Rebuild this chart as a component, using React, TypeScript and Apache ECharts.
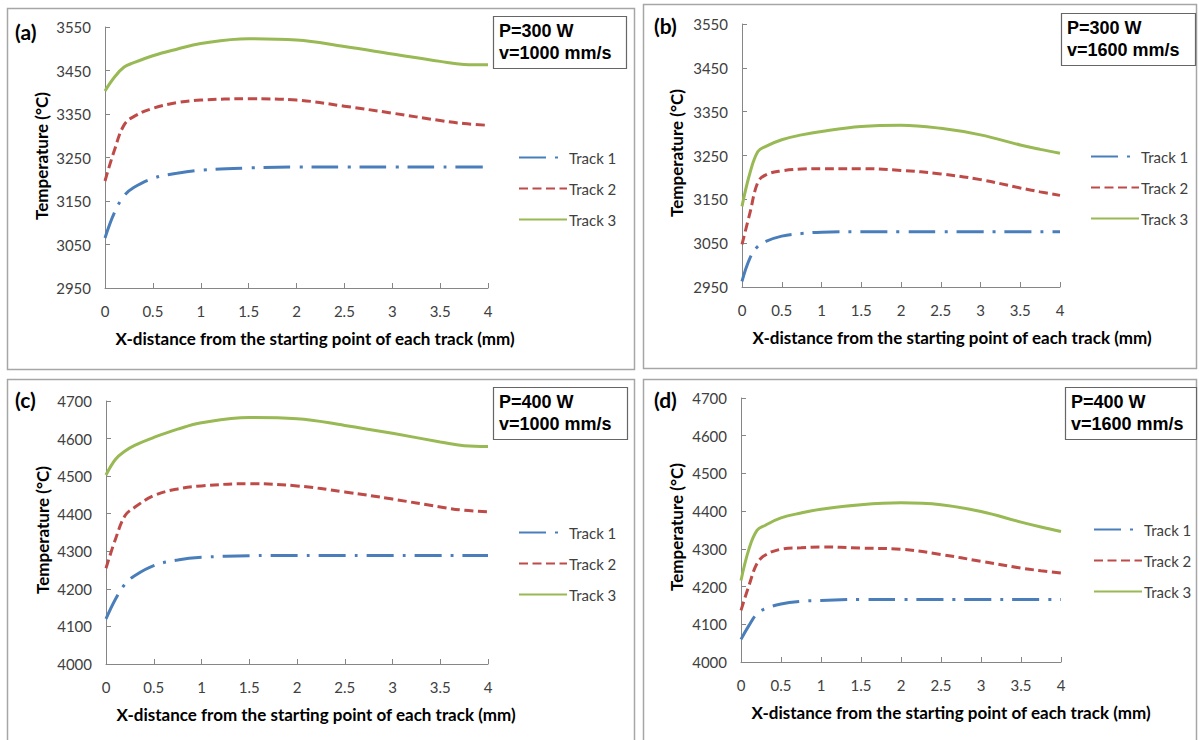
import React, { useEffect, useRef } from "react";
import * as echarts from "echarts";

// Sampling positions along each track (mm)
const xDistance = [0, 0.1, 0.2, 0.3, 0.5, 0.75, 1, 1.5, 2, 2.5, 3, 3.5, 3.75, 4];

// Peak temperature (°C) along each track
const a_track1 = [3065, 3124, 3162, 3181, 3202, 3214, 3221, 3226, 3228, 3228, 3228, 3228, 3228, 3228];
const a_track2 = [3196, 3268, 3325, 3344, 3363, 3376, 3382, 3385, 3382, 3368, 3352, 3335, 3328, 3324];
const a_track3 = [3403, 3435, 3458, 3468, 3484, 3499, 3512, 3523, 3520, 3505, 3488, 3471, 3464, 3463];

const b_track1 = [2963, 3016, 3043, 3054, 3066, 3072, 3075, 3076, 3076, 3076, 3076, 3076, 3076, 3076];
const b_track2 = [3047, 3119, 3189, 3206, 3215, 3219, 3220, 3220, 3216, 3208, 3195, 3176, 3167, 3159];
const b_track3 = [3134, 3210, 3259, 3271, 3286, 3297, 3305, 3316, 3319, 3312, 3297, 3274, 3264, 3255];

const c_track1 = [4120, 4173, 4213, 4235, 4262, 4277, 4284, 4288, 4289, 4289, 4289, 4289, 4289, 4289];
const c_track2 = [4255, 4333, 4395, 4417, 4448, 4466, 4474, 4480, 4474, 4458, 4439, 4418, 4409, 4405];
const c_track3 = [4503, 4545, 4567, 4582, 4603, 4625, 4642, 4656, 4653, 4635, 4614, 4591, 4581, 4579];

const d_track1 = [4060, 4097, 4128, 4141, 4154, 4161, 4163, 4166, 4166, 4166, 4166, 4166, 4166, 4166];
const d_track2 = [4137, 4203, 4261, 4283, 4299, 4303, 4305, 4302, 4299, 4285, 4267, 4249, 4242, 4236];
const d_track3 = [4216, 4300, 4349, 4362, 4382, 4395, 4405, 4417, 4422, 4417, 4399, 4371, 4358, 4346];

// Tick labels
const ticks300W = [2950, 3050, 3150, 3250, 3350, 3450, 3550];
const ticks400W = [4000, 4100, 4200, 4300, 4400, 4500, 4600, 4700];

const trackNames = ["Track 1", "Track 2", "Track 3"];
const panelLetters = ["(a)", "(b)", "(c)", "(d)"];
const powerLabels = ["P=300 W", "P=300 W", "P=400 W", "P=400 W"];
const speedLabels = ["v=1000 mm/s", "v=1600 mm/s", "v=1000 mm/s", "v=1600 mm/s"];
const xTitle = "X-distance from the starting point of each track (mm)";
const yTitle = "Temperature (°C)";

const COLORS = ["#4a7ebb", "#be4b48", "#98b954"];
const DASHES: any[] = [[27, 9, 3, 9], [9, 4.5], "solid"];
const AXIS_GRAY = "#868686";
const TEXT = "#404040";
const FONT = "Lato, 'Open Sans', sans-serif";
const BOX_FONT = "'Liberation Sans', Arial, sans-serif";

// Layout of each panel (pixels)
const panels = [
  { grid: { left: 105, top: 27, width: 383, height: 261 }, frame: [7, 8, 627, 361], ticks: ticks300W, data: [a_track1, a_track2, a_track3], legend: [513, 145], box: [493, 16, 133, 52], letter: [15, 31], yTitleX: 41 },
  { grid: { left: 742, top: 24, width: 318, height: 263 }, frame: [643, 4, 553, 364], ticks: ticks300W, data: [b_track1, b_track2, b_track3], legend: [1085, 144], box: [1061, 13, 134, 52], letter: [654, 25], yTitleX: 676 },
  { grid: { left: 106, top: 401, width: 382, height: 263 }, frame: [7, 379, 627, 366], ticks: ticks400W, data: [c_track1, c_track2, c_track3], legend: [513, 520], box: [493, 387, 134, 52], letter: [15, 399], yTitleX: 42 },
  { grid: { left: 741, top: 398, width: 320, height: 264 }, frame: [643, 379, 553, 366], ticks: ticks400W, data: [d_track1, d_track2, d_track3], legend: [1088, 517], box: [1065, 387, 131, 52], letter: [654, 399], yTitleX: 676 },
];

export default function App() {
  const ref = useRef<HTMLDivElement>(null);

  useEffect(() => {
    if (!ref.current) return;
    const chart = echarts.init(ref.current, null, { renderer: "svg" });

    const grids: any[] = [];
    const xAxes: any[] = [];
    const yAxes: any[] = [];
    const series: any[] = [];
    const legends: any[] = [];
    const graphics: any[] = [];

    panels.forEach((p, i) => {
      grids.push({ ...p.grid, containLabel: false });
      xAxes.push({
        type: "value",
        gridIndex: i,
        min: 0,
        max: 4,
        interval: 0.5,
        axisLine: { show: true, lineStyle: { color: AXIS_GRAY, width: 1 } },
        axisTick: { show: true, inside: true, length: 5, lineStyle: { color: AXIS_GRAY } },
        axisLabel: { color: TEXT, fontFamily: FONT, fontSize: 15, margin: 15 },
        splitLine: { show: false },
      });
      const lo = p.ticks[0];
      const hi = p.ticks[p.ticks.length - 1];
      yAxes.push({
        type: "value",
        gridIndex: i,
        min: lo,
        max: hi,
        axisLine: { show: true, lineStyle: { color: AXIS_GRAY, width: 1 } },
        axisTick: { show: true, inside: true, length: 5, lineStyle: { color: AXIS_GRAY }, customValues: p.ticks },
        axisLabel: {
          color: TEXT,
          fontFamily: FONT,
          fontSize: 15,
          margin: 14,
          customValues: p.ticks,
          formatter: (v: number) => String(v),
        },
        splitLine: { show: false },
      });
      p.data.forEach((vals, k) => {
        series.push({
          type: "line",
          name: trackNames[k],
          xAxisIndex: i,
          yAxisIndex: i,
          data: xDistance.map((x, j) => [x, vals[j]]),
          smooth: 0.4,
          symbol: "none",
          showSymbol: false,
          lineStyle: { color: COLORS[k], width: 3, type: DASHES[k] },
          itemStyle: { color: COLORS[k] },
          z: 5 - k,
        });
      });
      legends.push({
        orient: "vertical",
        left: p.legend[0],
        top: p.legend[1],
        itemWidth: 48,
        itemHeight: 14,
        itemGap: 16,
        data: trackNames,
        itemStyle: { color: "rgba(0,0,0,0)", borderWidth: 0, opacity: 0 },
        textStyle: { color: TEXT, fontFamily: FONT, fontSize: 15, padding: [0, 0, 0, -3] },
      });

      // Panel frame
      graphics.push({
        type: "rect",
        shape: { x: p.frame[0] + 0.5, y: p.frame[1] + 0.5, width: p.frame[2], height: p.frame[3] },
        style: { fill: "none", stroke: "#a6a6a6", lineWidth: 1.5 },
        silent: true,
      });
      // Panel letter
      graphics.push({
        type: "text",
        x: p.letter[0],
        y: p.letter[1],
        style: { text: panelLetters[i], font: `bold 21px ${FONT}`, fill: "#000", verticalAlign: "middle" },
      });
      // Process parameter box
      graphics.push({
        type: "rect",
        shape: { x: p.box[0] + 0.5, y: p.box[1] + 0.5, width: p.box[2], height: p.box[3] },
        style: { fill: "#fff", stroke: "#666", lineWidth: 1.2 },
      });
      graphics.push({
        type: "text",
        x: p.box[0] + 6,
        y: p.box[1] + 15,
        style: { text: powerLabels[i], font: `bold 18px ${BOX_FONT}`, fill: "#000", verticalAlign: "middle" },
      });
      graphics.push({
        type: "text",
        x: p.box[0] + 6,
        y: p.box[1] + 37,
        style: { text: speedLabels[i], font: `bold 18px ${BOX_FONT}`, fill: "#000", verticalAlign: "middle" },
      });
      // Axis titles
      const g = p.grid;
      graphics.push({
        type: "text",
        x: g.left + 5 + 205,
        y: g.top + g.height + 50,
        style: { text: xTitle, font: `bold 17px ${FONT}`, fill: "#000", align: "center", verticalAlign: "middle" },
      });
      graphics.push({
        type: "text",
        x: p.yTitleX,
        y: g.top + 129,
        rotation: Math.PI / 2,
        style: { text: yTitle, font: `bold 17px ${FONT}`, fill: "#000", align: "center", verticalAlign: "middle" },
      });
    });

    chart.setOption({
      animation: false,
      backgroundColor: "#fff",
      grid: grids,
      xAxis: xAxes,
      yAxis: yAxes,
      series,
      legend: legends,
      graphic: graphics,
    });

    return () => chart.dispose();
  }, []);

  return <div ref={ref} style={{ position: "absolute", left: 0, top: 0, width: 1199, height: 740 }} />;
}
